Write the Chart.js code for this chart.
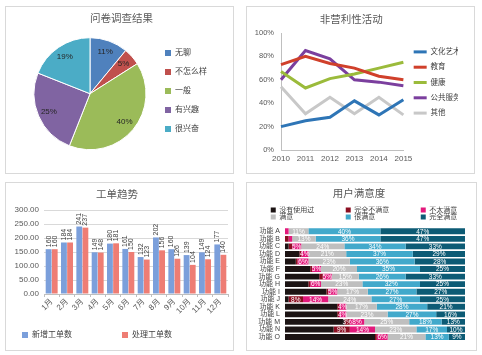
<!DOCTYPE html>
<html><head><meta charset="utf-8">
<script src="https://cdn.jsdelivr.net/npm/chart.js@4/dist/chart.umd.min.js"></script>
<style>
html,body{margin:0;padding:0;background:#fff;}
body{width:482px;height:355px;position:relative;overflow:hidden;}
.p{position:absolute;border:1px solid #D9D9D9;background:#fff;}
.p canvas{display:block;}
</style></head><body>
<div class="p" style="left:5px;top:6px;width:227px;height:166px"><canvas id="c1" width="227" height="166"></canvas></div>
<div class="p" style="left:246px;top:6px;width:227px;height:166px"><canvas id="c2" width="227" height="166"></canvas></div>
<div class="p" style="left:5px;top:182px;width:227px;height:167px"><canvas id="c3" width="227" height="167"></canvas></div>
<div class="p" style="left:246px;top:182px;width:229px;height:167px"><canvas id="c4" width="229" height="167"></canvas></div>
<script>
// ---------- data ----------
const pieLabels = ['无聊','不怎么样','一般','有兴趣','很兴奋'];
const pieValues = [11,5,40,25,19];

const years = ['2010','2011','2012','2013','2014','2015'];
const arts = [20,25,28,42,30,43];
const education = [73,80,74,70,63,60];
const health = [67,53,61,65,70,75];
const publicService = [60,85,78,60,58,55];
const others = [54,31,45,31,45,30];

const months = ['1月','2月','3月','4月','5月','6月','7月','8月','9月','10月','11月','12月'];
const newOrders = [160,184,241,149,180,161,132,202,160,139,149,177];
const doneOrders = [160,184,237,148,181,150,123,156,126,104,124,140];

const features = ['功能 A','功能 B','功能 C','功能 D','功能 E','功能 F','功能 G','功能 H','功能 I','功能 J','功能 K','功能 L','功能 M','功能 N','功能 O'];
const neverUsed     = [0,0,2,8,6,14,19,13,23,2,29,29,33,27,50];
const notAtAll      = [0,2,2,1,1,1,2,1,1,8,1,1,3,9,1];
const notSatisfied  = [2,2,5,4,6,5,5,6,5,14,4,4,8,14,6];
const satisfied     = [11,13,24,21,23,20,15,23,17,24,17,23,25,23,21];
const verySatisfied = [40,36,34,37,36,35,26,32,27,27,28,27,18,17,13];
const fullySatisfied= [47,47,33,29,28,25,33,25,27,25,21,16,13,10,9];
const satisfactionNames = ['没有使用过','完全不满意','不太满意','满意','很满意','完全满意'];

// ---------- helpers ----------
const FONT = "'Liberation Sans','Noto Sans CJK SC',sans-serif";
Chart.defaults.font.family = FONT;
Chart.defaults.color = '#595959';
Chart.defaults.animation = false;
Chart.defaults.plugins.tooltip.enabled = false;

function tweak(dx, dy, dh) {
  return {
    id: 'tweak',
    beforeInit(chart) {
      if (dh && chart.legend) {
        const orig = chart.legend.fit;
        chart.legend.fit = function () { orig.call(this); this.height += dh; };
      }
    },
    afterLayout(chart) {
      const l = chart.legend; if (!l) return;
      l.left += dx; l.right += dx; l.top += dy; l.bottom += dy;
    }
  };
}
const baseGen = Chart.defaults.plugins.legend.labels.generateLabels;
function padLabels(pads) {
  return function (chart) {
    return baseGen(chart).map((it, i) => { it.text = it.text + (pads[i] || ''); return it; });
  };
}
function titleOpts(text, top, bottom) {
  return {display: true, text, color: '#595959', font: {size: 10.5, weight: 'normal', family: FONT}, padding: {top, bottom}};
}

// ---------- chart 1: pie ----------
const pieLabelPlugin = {
  id: 'pieLabels',
  afterDatasetsDraw(chart) {
    const ctx = chart.ctx, meta = chart.getDatasetMeta(0), ds = chart.data.datasets[0].data;
    ctx.save();
    ctx.font = '8px ' + FONT; ctx.fillStyle = '#262626';
    ctx.textAlign = 'center'; ctx.textBaseline = 'middle';
    meta.data.forEach((arc, i) => {
      const p = arc.getProps(['x','y','startAngle','endAngle','outerRadius'], true);
      const mid = (p.startAngle + p.endAngle) / 2, r = p.outerRadius * 0.8;
      ctx.fillText(ds[i] + '%', p.x + Math.cos(mid) * r, p.y + Math.sin(mid) * r);
    });
    ctx.restore();
  }
};
let pieGen;
try { pieGen = Chart.overrides.pie.plugins.legend.labels.generateLabels; } catch (e) { pieGen = null; }
new Chart(document.getElementById('c1'), {
  type: 'pie',
  data: {labels: pieLabels, datasets: [{data: pieValues, radius: 56, hoverOffset: 0,
    backgroundColor: ['#4F81BD','#C0504D','#9BBB59','#8064A2','#4BACC6'], borderColor: '#fff', borderWidth: 1}]},
  options: {
    responsive: false,
    layout: {padding: {left: 20, right: 16, top: 0, bottom: 16.6}},
    plugins: {
      title: titleOpts('问卷调查结果', 5.4, 6),
      legend: {position: 'right', labels: {boxWidth: 6, boxHeight: 6, padding: 11, color: '#404040', font: {size: 8},
        generateLabels: pieGen ? (c) => pieGen(c).map(it => { it.lineWidth = 0; return it; }) : undefined}}
    }
  },
  plugins: [pieLabelPlugin, tweak(0, 9.3, 0)]
});

// ---------- chart 2: line ----------
function lineDs(label, data, color) {
  return {label, data, borderColor: color, backgroundColor: color, borderWidth: 3, pointRadius: 0, pointBorderWidth: 3, tension: 0};
}
new Chart(document.getElementById('c2'), {
  type: 'line',
  data: {labels: years, datasets: [
    lineDs('文化艺术', arts, '#2E75B6'),
    lineDs('教育', education, '#D0402B'),
    lineDs('健康', health, '#9BBB3B'),
    lineDs('公共服务', publicService, '#7B3F9E'),
    lineDs('其他', others, '#C8C8C8')
  ]},
  options: {
    responsive: false,
    layout: {padding: {left: 0, right: 18.5, top: 0, bottom: 9}},
    scales: {
      x: {grid: {drawOnChartArea: false, drawTicks: false}, border: {color: '#BFBFBF'},
          ticks: {color: '#595959', font: {size: 8}, padding: 4, maxRotation: 0}, afterFit(s) { s.height = 14; }},
      y: {min: 0, max: 100, grid: {drawOnChartArea: false, drawTicks: false}, border: {color: '#BFBFBF'},
          ticks: {stepSize: 10, callback: v => v + '%', color: '#595959', font: {size: 7.5}, padding: 7}, afterFit(s) { s.width = 34; }}
    },
    plugins: {
      title: titleOpts('非营利性活动', 6.7, 6.7),
      legend: {position: 'right', labels: {usePointStyle: true, pointStyle: 'line', pointStyleWidth: 13, padding: 7.8, color: '#404040', font: {size: 7.5}}}
    }
  },
  plugins: [tweak(2.5, -3, 0)]
});

// ---------- chart 3: grouped bars ----------
const barLabelPlugin = {
  id: 'barLabels',
  afterDatasetsDraw(chart) {
    const ctx = chart.ctx;
    ctx.save();
    ctx.font = '7px ' + FONT; ctx.fillStyle = '#404040';
    ctx.textAlign = 'left'; ctx.textBaseline = 'middle';
    chart.data.datasets.forEach((ds, di) => {
      chart.getDatasetMeta(di).data.forEach((bar, i) => {
        ctx.save();
        ctx.translate(bar.x, bar.y - 2);
        ctx.rotate(-Math.PI / 2);
        ctx.fillText(String(ds.data[i]), 0, 0);
        ctx.restore();
      });
    });
    ctx.restore();
  }
};
const sp5 = '\u3000\u3000\u3000\u3000\u3000';
new Chart(document.getElementById('c3'), {
  type: 'bar',
  data: {labels: months, datasets: [
    {label: '新增工单数', data: newOrders, backgroundColor: '#7B9FDB'},
    {label: '处理工单数', data: doneOrders, backgroundColor: '#EE7D74'}
  ]},
  options: {
    responsive: false,
    datasets: {bar: {barPercentage: 0.95, categoryPercentage: 0.8}},
    layout: {padding: {left: 0, right: 5, top: 0, bottom: 1}},
    scales: {
      x: {grid: {drawOnChartArea: false, drawTicks: true, tickLength: 3, color: '#BFBFBF'}, border: {color: '#BFBFBF'},
          ticks: {minRotation: 45, maxRotation: 45, autoSkip: false, padding: 0, color: '#595959', font: {size: 8}}, afterFit(s) { s.height = 27; }},
      y: {min: 0, max: 300, grid: {color: '#D9D9D9', drawTicks: false}, border: {display: false},
          ticks: {stepSize: 50, callback: v => v.toFixed(2), padding: 5, color: '#595959', font: {size: 8}}, afterFit(s) { s.width = 38; }}
    },
    plugins: {
      title: titleOpts('工单趋势', 5.7, 8.7),
      legend: {position: 'bottom', labels: {boxWidth: 6, boxHeight: 6, padding: 10, color: '#404040', font: {size: 8},
        generateLabels: padLabels([sp5, sp5])}}
    }
  },
  plugins: [barLabelPlugin]
});

// ---------- chart 4: 100% stacked horizontal bars ----------
const stackLabelPlugin = {
  id: 'stackLabels',
  afterDatasetsDraw(chart) {
    const ctx = chart.ctx;
    ctx.save();
    ctx.font = '6.5px ' + FONT; ctx.fillStyle = '#fff';
    ctx.textAlign = 'center'; ctx.textBaseline = 'middle';
    chart.data.datasets.forEach((ds, di) => {
      if (di === 0) return;
      chart.getDatasetMeta(di).data.forEach((el, i) => {
        const v = ds.data[i];
        if (v >= 3) ctx.fillText(v + '%', (el.x + el.base) / 2, el.y + 0.5);
      });
    });
    ctx.restore();
  }
};
const satColors = ['#1C1414','#8C0F22','#E3197C','#BFBFBF','#42A9CB','#0D5B75'];
const satSeries = [neverUsed, notAtAll, notSatisfied, satisfied, verySatisfied, fullySatisfied];
const I = '\u3000', H = '\u2002';
new Chart(document.getElementById('c4'), {
  type: 'bar',
  data: {labels: features, datasets: satSeries.map((d, i) => ({label: satisfactionNames[i], data: d, backgroundColor: satColors[i]}))},
  options: {
    indexAxis: 'y',
    responsive: false,
    datasets: {bar: {barPercentage: 0.78, categoryPercentage: 1}},
    layout: {padding: {left: 6, right: 11, top: 0, bottom: 7}},
    scales: {
      x: {stacked: true, min: 0, max: 100, display: false},
      y: {stacked: true, grid: {display: false, drawTicks: false}, border: {display: false},
          ticks: {padding: 5, color: '#404040', font: {size: 7}, autoSkip: false}, afterFit(s) { s.width = 32; }}
    },
    plugins: {
      title: titleOpts('用户满意度', 4.7, 6.2),
      legend: {position: 'top', labels: {boxWidth: 5, boxHeight: 5, padding: 0, color: '#404040', font: {size: 7},
        generateLabels: padLabels([I+I+I+I+H, I+I+I+I+H, '', I.repeat(7)+H, I.repeat(6)+H, ''])}}
    }
  },
  plugins: [stackLabelPlugin, tweak(5, 0, -3)]
});
</script>
</body></html>
